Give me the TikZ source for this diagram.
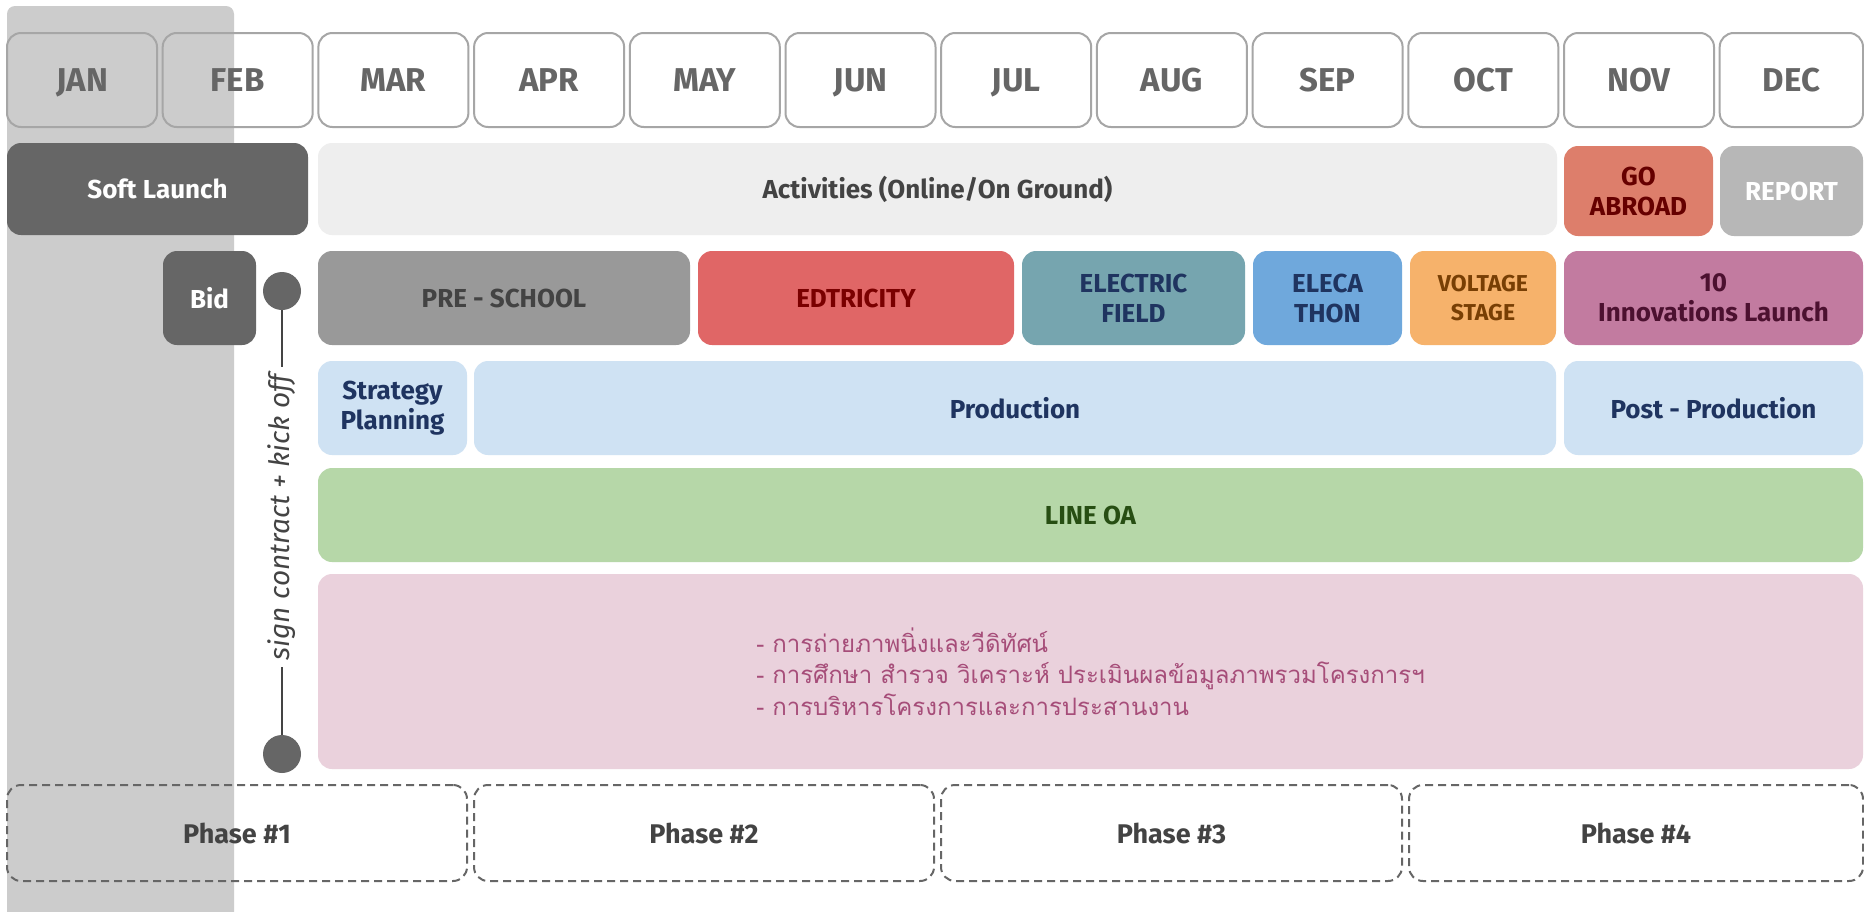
\documentclass[tikz,border=0pt]{standalone}
\usepackage{fontspec}
\setmainfont{Fira Sans}
\newfontfamily\thaifont[Script=Thai]{Loma}
\definecolor{monthline}{HTML}{A6A6A6}
\definecolor{monthtxt}{HTML}{666666}
\definecolor{bandgray}{HTML}{CCCCCC}
\definecolor{darkbox}{HTML}{666666}
\definecolor{actfill}{HTML}{EEEEEE}
\definecolor{greytxt}{HTML}{434343}
\definecolor{gofill}{HTML}{DD7E6B}
\definecolor{gotxt}{HTML}{660000}
\definecolor{repfill}{HTML}{B7B7B7}
\definecolor{prefill}{HTML}{999999}
\definecolor{edfill}{HTML}{E06666}
\definecolor{edtxt}{HTML}{7A0000}
\definecolor{effill}{HTML}{76A5AF}
\definecolor{navytxt}{HTML}{1F3460}
\definecolor{elfill}{HTML}{6FA8DC}
\definecolor{vofill}{HTML}{F6B26B}
\definecolor{votxt}{HTML}{783F04}
\definecolor{infill}{HTML}{C27BA0}
\definecolor{intxt}{HTML}{4C1130}
\definecolor{lbfill}{HTML}{CFE2F3}
\definecolor{lofill}{HTML}{B6D7A8}
\definecolor{lotxt}{HTML}{274E13}
\definecolor{pkfill}{HTML}{EAD1DC}
\definecolor{pktxt}{HTML}{A64D79}
\definecolor{phline}{HTML}{666666}
\definecolor{conline}{HTML}{444444}

\newcommand\rbox[7]{%
  \pgfmathsetmacro\bw{#4-(#2)}\pgfmathsetmacro\bh{#5-(#3)}%
  \pgfmathsetmacro\bcx{(#2+#4)/2}\pgfmathsetmacro\bcy{(#3+#5)/2}%
  \node[#6, minimum width=\bw pt, minimum height=\bh pt] (#1) at (\bcx,\bcy) {#7};}

\tikzset{
  base/.style={rounded corners=14pt, inner sep=0pt, align=center,
    font=\bfseries\fontsize{26}{30}\selectfont},
  month/.style={base, draw=monthline, line width=2pt, text=monthtxt,
    text height=23pt, text depth=0pt,
    font=\bfseries\fontsize{33}{36}\selectfont},
  fillbox/.style 2 args={base, fill=#1, text=#2},
  phase/.style={base, draw=phline, dash pattern=on 8pt off 5pt, line width=2pt,
    text=greytxt, font=\bfseries\fontsize{27}{30}\selectfont},
  dot/.style={circle, fill=darkbox, minimum size=38pt, inner sep=0pt},
  conn/.style={draw=conline, line width=2pt},
}

\begin{document}
\begin{tikzpicture}[x=1pt,y=-1pt]
\clip (0,0) rectangle (1864,911);
\fill[white] (0,0) rectangle (1864,911);
% highlight band
\fill[bandgray, rounded corners=8pt] (7,6) rectangle (234,930);

% months
\foreach \n [count=\i from 0] in {JAN,FEB,MAR,APR,MAY,JUN,JUL,AUG,SEP,OCT,NOV}{
  \pgfmathsetmacro\l{7+\i*155.7}
  \rbox{m\i}{\l}{33}{\l+150}{127}{month}{\n}
}
\rbox{m11}{1719.7}{33}{1863}{127}{month}{DEC}

% row 2
\rbox{soft}{7}{143}{308}{235}{fillbox={darkbox}{white}}{Soft Launch}
\rbox{act}{318}{143}{1557}{235}{fillbox={actfill}{greytxt}}{Activities (Online/On Ground)}
\rbox{go}{1564}{146}{1713}{236}{fillbox={gofill}{gotxt}}{GO\\ABROAD}
\rbox{rep}{1720}{146}{1863}{236}{fillbox={repfill}{white}}{REPORT}

% row 3
\rbox{bid}{163}{251}{256}{345}{fillbox={darkbox}{white}}{Bid}
\rbox{pre}{318}{251}{690}{345}{fillbox={prefill}{greytxt}}{PRE - SCHOOL}
\rbox{edt}{698}{251}{1014}{345}{fillbox={edfill}{edtxt}}{EDTRICITY}
\rbox{ef}{1022}{251}{1245}{345}{fillbox={effill}{navytxt}}{ELECTRIC\\FIELD}
\rbox{el}{1253}{251}{1402}{345}{fillbox={elfill}{navytxt}}{ELECA\\THON}
\rbox{vo}{1410}{251}{1556}{345}{fillbox={vofill}{votxt}, font=\bfseries\fontsize{23}{29}\selectfont}{VOLTAGE\\STAGE}
\rbox{inn}{1564}{251}{1863}{345}{fillbox={infill}{intxt}}{10\\Innovations Launch}

% row 4
\rbox{stp}{318}{361}{467}{455}{fillbox={lbfill}{navytxt}}{Strategy\\Planning}
\rbox{prod}{474}{361}{1556}{455}{fillbox={lbfill}{navytxt}}{Production}
\rbox{post}{1564}{361}{1863}{455}{fillbox={lbfill}{navytxt}}{Post - Production}

% row 5
\rbox{line}{318}{468}{1863}{562}{fillbox={lofill}{lotxt}}{LINE OA}

% row 6
\rbox{pink}{318}{574}{1863}{769}{fillbox={pkfill}{pktxt}, align=left,
  font=\thaifont\fontsize{24}{31.5}\selectfont}{%
- การถ่ายภาพนิ่งและวีดิทัศน์\\
- การศึกษา สำรวจ วิเคราะห์ ประเมินผลข้อมูลภาพรวมโครงการฯ\\
- การบริหารโครงการและการประสานงาน}

% phases
\rbox{ph1}{7}{785}{467}{881}{phase}{Phase \#1}
\rbox{ph2}{474}{785}{934}{881}{phase}{Phase \#2}
\rbox{ph3}{941}{785}{1402}{881}{phase}{Phase \#3}
\rbox{ph4}{1409}{785}{1863}{881}{phase}{Phase \#4}

% sign contract timeline
\node[dot] (c1) at (282,291) {};
\node[dot] (c2) at (282,754) {};
\node[rotate=90, inner sep=7pt, text=conline,
  font=\itshape\fontsize{28}{32}\selectfont] (sc) at (282,517) {sign contract + kick off};
\draw[conn] (c1) -- (sc.east);
\draw[conn] (sc.west) -- (c2);
\end{tikzpicture}
\end{document}
